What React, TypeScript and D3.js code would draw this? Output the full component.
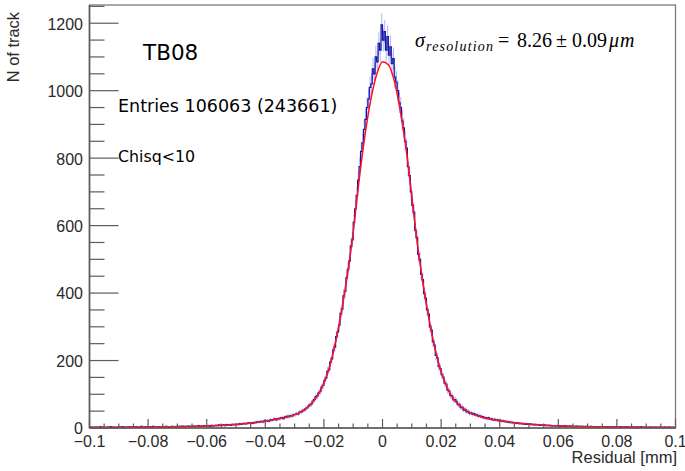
import React from "react";
import * as d3 from "d3";

// Histogram counts: 400 bins over [-0.1, 0.1] mm
const binCounts = [
  2, 3, 1, 2, 3, 2, 2, 4, 1, 3,
  2, 1, 3, 2, 4, 2, 3, 1, 2, 3,
  3, 2, 4, 1, 3, 2, 3, 4, 2, 3,
  2, 4, 3, 2, 3, 5, 2, 3, 4, 2,
  3, 4, 2, 5, 3, 3, 4, 2, 4, 3,
  4, 3, 5, 3, 4, 2, 5, 4, 3, 5,
  4, 5, 3, 6, 4, 5, 4, 6, 5, 4,
  5, 6, 4, 5, 7, 5, 6, 5, 7, 6,
  6, 7, 5, 8, 6, 7, 8, 7, 9, 8,
  8, 9, 7, 10, 9, 10, 8, 11, 10, 11,
  11, 10, 13, 11, 12, 14, 12, 13, 15, 14,
  15, 14, 17, 16, 18, 17, 19, 20, 18, 21,
  21, 22, 20, 24, 23, 25, 27, 24, 28, 27,
  29, 31, 28, 33, 32, 35, 34, 37, 36, 40,
  40, 43, 42, 47, 48, 51, 53, 57, 60, 64,
  69, 71, 80, 84, 93, 95, 104, 108, 121, 126,
  141, 148, 168, 172, 196, 205, 232, 240, 271, 284,
  305, 340, 352, 392, 405, 445, 470, 495, 540, 558,
  610, 650, 690, 735, 775, 820, 845, 885, 915, 950,
  975, 1010, 1020, 1065, 1050, 1100, 1085, 1140, 1120, 1195,
  1150, 1175, 1120, 1160, 1105, 1130, 1080, 1095, 1040, 1025,
  1000, 965, 950, 910, 890, 850, 830, 775, 748, 700,
  660, 640, 585, 565, 515, 500, 455, 440, 398, 385,
  350, 338, 300, 290, 255, 246, 215, 208, 182, 176,
  158, 151, 133, 130, 112, 110, 96, 95, 83, 84,
  79, 69, 70, 60, 62, 53, 55, 48, 49, 43,
  45, 41, 43, 38, 39, 35, 36, 33, 34, 30,
  31, 28, 30, 26, 27, 24, 26, 23, 24, 21,
  23, 20, 21, 19, 20, 17, 18, 16, 17, 15,
  16, 14, 15, 13, 14, 12, 13, 11, 12, 11,
  12, 10, 11, 9, 11, 9, 10, 8, 9, 8,
  9, 7, 8, 7, 8, 6, 7, 6, 7, 6,
  7, 5, 6, 5, 7, 4, 6, 5, 6, 4,
  5, 4, 6, 3, 5, 4, 5, 3, 4, 5,
  4, 3, 5, 4, 3, 4, 2, 4, 3, 4,
  3, 4, 2, 4, 3, 3, 4, 2, 3, 4,
  3, 2, 4, 3, 2, 3, 4, 2, 3, 2,
  3, 2, 3, 1, 3, 2, 4, 2, 3, 2,
  2, 3, 1, 3, 2, 2, 3, 1, 2, 3,
  2, 1, 3, 2, 2, 3, 1, 2, 2, 1,
];

// Fit curve values at x = -0.100, -0.098, ..., 0.100
const fitValues = [
  2, 2, 2, 2, 2, 2.2, 2.4, 2.6, 2.8, 2.9,
  3, 3.2, 3.4, 3.6, 3.8, 4, 4.3, 4.7, 5.1, 5.5,
  6, 6.7, 7.5, 8.2, 9.4, 10.6, 12.2, 13.8, 15.4, 17.8,
  20.3, 23.4, 26.8, 30, 33.7, 39, 47, 58, 75, 98,
  133, 184, 256, 345, 453, 581, 734, 867, 973, 1048,
  1086,
  1077, 1030, 944, 832, 686, 540, 419, 317, 232, 167,
  121, 89, 69, 55, 44, 37.5, 32, 28, 24.6, 22,
  19, 17, 14.6, 13, 11.5, 10, 9, 8, 7, 6.3,
  5.7, 5.2, 4.8, 4.4, 4.1, 3.8, 3.6, 3.4, 3.2, 3,
  2.9, 2.8, 2.7, 2.6, 2.4, 2.3, 2.2, 2.1, 2, 2,
];

const xDomain = [-0.1, 0.1];
const yDomain = [0, 1254];
const xTickValues = [-0.1, -0.08, -0.06, -0.04, -0.02, 0, 0.02, 0.04, 0.06, 0.08, 0.1];
const xTickLabels = ["\u22120.1", "\u22120.08", "\u22120.06", "\u22120.04", "\u22120.02", "0", "0.02", "0.04", "0.06", "0.08", "0.1"];
const yTickValues = [0, 200, 400, 600, 800, 1000, 1200];
const yTickLabels = ["0", "200", "400", "600", "800", "1000", "1200"];
const xTitle = "Residual [mm]";
const yTitle = "N of track";
const label1 = "TB08";
const label2 = "Entries 106063 (243661)";
const label3 = "Chisq<10";

export default function App() {
  const W = 685, H = 471;
  const L = 89.5, R = 675.5, T = 5, B = 428;
  const x = d3.scaleLinear().domain(xDomain).range([L, R]);
  const y = d3.scaleLinear().domain(yDomain).range([B, T]);

  const nb = binCounts.length;
  const bw = (xDomain[1] - xDomain[0]) / nb;

  let step = "";
  binCounts.forEach((v, i) => {
    const x0 = x(xDomain[0] + i * bw);
    const x1 = x(xDomain[0] + (i + 1) * bw);
    step += (i === 0 ? `M${x0},${y(v)}` : `L${x0},${y(v)}`) + `L${x1},${y(v)}`;
  });

  const fitX = d3.range(fitValues.length).map((k) => xDomain[0] + (k * (xDomain[1] - xDomain[0])) / (fitValues.length - 1));
  const fitLine = d3
    .line<number>()
    .x((_, k) => x(fitX[k]))
    .y((d) => y(d))
    .curve(d3.curveMonotoneX)(fitValues) as string;

  const xMinor = d3.range(-0.1, 0.1 + 1e-9, 0.005).filter((v) => Math.abs(Math.round(v / 0.02) * 0.02 - v) > 1e-6);
  const yMinor = d3.range(0, 1254, 50).filter((v) => v % 200 !== 0);

  const axisColor = "#5c5c5c";
  const sans = "'Liberation Sans', Arial, Helvetica, sans-serif";
  const dejavu = "'DejaVu Sans', Verdana, sans-serif";
  const serif = "'Liberation Serif', 'Times New Roman', serif";

  return (
    <div style={{ position: "fixed", left: 0, top: 0 }}>
      <svg width={W} height={H} viewBox={`0 0 ${W} ${H}`} style={{ display: "block", background: "#fff" }}>
        {/* frame */}
        <rect x={L} y={T} width={R - L} height={B - T} fill="none" stroke="#7a7a7a" strokeWidth={1.3} />
        {/* error bars */}
        <g stroke="#6a6af5" strokeWidth={1} opacity={0.5}>
          {binCounts.map((v, i) => {
            const cx = x(xDomain[0] + (i + 0.5) * bw);
            const e = Math.sqrt(v);
            return <line key={i} x1={cx} x2={cx} y1={y(Math.max(0, v - e))} y2={y(v + e)} />;
          })}
        </g>
        {/* histogram */}
        <path d={step} fill="none" stroke="#1414a8" strokeWidth={1.2} />
        {/* fit */}
        <path d={fitLine} fill="none" stroke="#ff1020" strokeWidth={1.5} />
        {/* axes lines */}
        <line x1={L} x2={L} y1={T} y2={B} stroke={axisColor} strokeWidth={1.6} />
        <line x1={L} x2={R} y1={B} y2={B} stroke={axisColor} strokeWidth={1.6} />
        {/* ticks */}
        <g stroke={axisColor} strokeWidth={1.2}>
          {xTickValues.map((v, i) => (
            <line key={"xm" + i} x1={x(v)} x2={x(v)} y1={B} y2={B - 9} />
          ))}
          {xMinor.map((v, i) => (
            <line key={"xn" + i} x1={x(v)} x2={x(v)} y1={B} y2={B - 4.5} />
          ))}
          {yTickValues.map((v, i) => (
            <line key={"ym" + i} x1={L} x2={L + 29} y1={y(v)} y2={y(v)} />
          ))}
          {yMinor.map((v, i) => (
            <line key={"yn" + i} x1={L} x2={L + 15} y1={y(v)} y2={y(v)} />
          ))}
        </g>
        {/* tick labels */}
        <g fontFamily={sans} fontSize={16} fill="#2a2a2a">
          {xTickValues.map((v, i) => (
            <text key={"xl" + i} x={x(v)} y={447} textAnchor="middle">
              {xTickLabels[i]}
            </text>
          ))}
          {yTickValues.map((v, i) => (
            <text key={"yl" + i} x={83} y={y(v)} dy="0.4em" textAnchor="end">
              {yTickLabels[i]}
            </text>
          ))}
        </g>
        {/* axis titles */}
        <text x={677} y={463} textAnchor="end" fontFamily={sans} fontSize={16.5} fill="#2a2a2a">
          {xTitle}
        </text>
        <text transform="translate(18.5,12) rotate(-90)" textAnchor="end" fontFamily={sans} fontSize={16.4} fill="#2a2a2a">
          {yTitle}
        </text>
        {/* annotations */}
        <text x={143} y={60} fontFamily={dejavu} fontSize={21.5} fill="#000">
          {label1}
        </text>
        <text x={118} y={112} fontFamily={dejavu} fontSize={17.5} fill="#000">
          {label2}
        </text>
        <text x={118} y={162} fontFamily={dejavu} fontSize={15.8} fill="#000">
          {label3}
        </text>
        {/* resolution formula */}
        <g fontFamily={serif} fill="#000">
          <text x={415} y={47} fontSize={20} fontStyle="italic">σ</text>
          <text x={426} y={51} fontSize={14} fontStyle="italic" textLength={67} lengthAdjust="spacing">resolution</text>
          <text x={498} y={47} fontSize={20}>=</text>
          <text x={517} y={47} fontSize={20}>8.26</text>
          <text x={556} y={47} fontSize={20}>±</text>
          <text x={572} y={47} fontSize={20}>0.09</text>
          <text x={609} y={47} fontSize={20} fontStyle="italic" letterSpacing={1}>μm</text>
        </g>
      </svg>
    </div>
  );
}
